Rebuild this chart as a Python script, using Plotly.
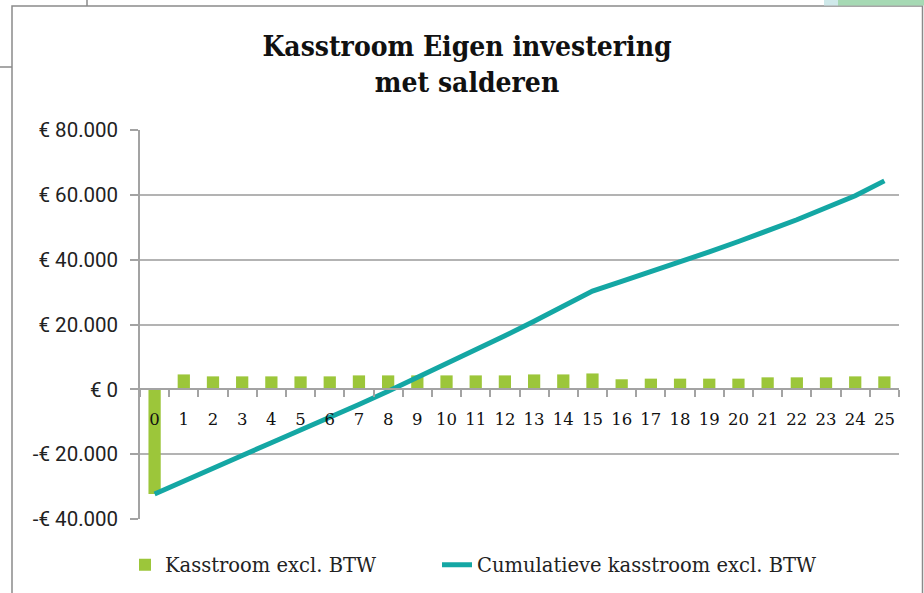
import plotly.graph_objects as go

# ---- data ----
years = [str(i) for i in range(26)]
kasstroom = [-32300, 4600, 4000, 4000, 4000, 4000, 4000, 4300, 4300, 4300, 4300,
             4300, 4300, 4600, 4600, 4900, 3100, 3300, 3300, 3300, 3300, 3700,
             3700, 3700, 4000, 4000]
cumulatief = [-32300, -28200, -24300, -20400, -16500, -12700, -8700, -4700, -600,
              3600, 7900, 12200, 16500, 21000, 25600, 30300, 33300, 36200, 39300,
              42400, 45600, 48900, 52300, 56000, 59700, 64300]
y_ticks = [-40000, -20000, 0, 20000, 40000, 60000, 80000]
y_labels = ["-€ 40.000", "-€ 20.000", "€ 0", "€ 20.000", "€ 40.000", "€ 60.000", "€ 80.000"]
title_text = "Kasstroom Eigen investering<br>met salderen"
bar_name = "Kasstroom excl. BTW"
line_name = "Cumulatieve kasstroom excl. BTW"

W, H = 924, 593
ML, MR, MT, MB = 140, 25, 130, 74
PW, PH = W - ML - MR, H - MT - MB


def px(x):
    return (x - ML) / PW


def py(y):
    return (H - MB - y) / PH


serif = "DejaVu Serif"
grey = "#a3a3a3"
legend_font = dict(family=serif, size=19.5, color="#222222")

fig = go.Figure()
fig.add_trace(go.Bar(
    x=years, y=kasstroom, name=bar_name, width=0.42, legend="legend",
    marker=dict(color="#9cc63a", line=dict(width=0)),
))
fig.add_trace(go.Scatter(
    x=years, y=cumulatief, name=line_name, mode="lines", legend="legend2",
    line=dict(color="#14a7a4", width=5),
))

shapes = [
    # outer chart frame
    dict(type="rect", xref="paper", yref="paper", x0=px(12), x1=px(922.5), y0=py(6), y1=py(610),
         line=dict(color="#8a8a8a", width=1.5), fillcolor="rgba(0,0,0,0)", layer="below"),
    dict(type="line", xref="paper", yref="paper", x0=px(0), x1=px(12), y0=py(67), y1=py(67),
         line=dict(color="#8a8a8a", width=1.5)),
    dict(type="line", xref="paper", yref="paper", x0=px(87), x1=px(87), y0=py(0), y1=py(6),
         line=dict(color="#8a8a8a", width=1.5)),
    dict(type="rect", xref="paper", yref="paper", x0=px(824), x1=px(838), y0=py(0), y1=py(5.5),
         line=dict(width=0), fillcolor="#cfe9ea"),
    dict(type="rect", xref="paper", yref="paper", x0=px(838), x1=px(924), y0=py(0), y1=py(5.5),
         line=dict(width=0), fillcolor="#a6d9b4"),
]

fig.update_layout(
    width=W, height=H,
    margin=dict(l=ML, r=MR, t=MT, b=MB, pad=0, autoexpand=False),
    paper_bgcolor="white", plot_bgcolor="white",
    title=dict(text=title_text, x=467 / W, xanchor="center", xref="container",
               y=1 - 56 / H, yanchor="middle", yref="container",
               font=dict(family="DejaVu Serif Condensed", size=28, color="#111111", weight="bold")),
    showlegend=True,
    legend=dict(orientation="h", x=px(125), xanchor="left", y=py(565), yanchor="middle",
                font=legend_font, bgcolor="rgba(0,0,0,0)"),
    legend2=dict(orientation="h", x=px(437), xanchor="left", y=py(565), yanchor="middle",
                 font=legend_font, bgcolor="rgba(0,0,0,0)"),
    bargap=0.58,
    shapes=shapes,
    xaxis=dict(type="category", anchor="free", position=1 / 3,
               showline=True, linecolor=grey, linewidth=1.5,
               ticks="outside", tickson="boundaries", ticklen=7, tickcolor=grey, tickwidth=1.5,
               showgrid=False, tickangle=0, ticklabelstandoff=15,
               tickfont=dict(family=serif, size=16.5, color="#111111"),
               range=[-0.5, 25.5], automargin=False),
    yaxis=dict(range=[-40000, 80000], tickvals=y_ticks, ticktext=y_labels,
               showline=True, linecolor=grey, linewidth=1.5,
               ticks="outside", ticklen=8, tickcolor=grey, tickwidth=1.5,
               showgrid=True, gridcolor="#b3b3b3", gridwidth=1.5, zeroline=False,
               tickfont=dict(family="Roboto", size=20.5, color="#222222"),
               ticklabelstandoff=8, automargin=False),
)

fig.write_html("out.html", post_script="document.body.style.margin='0';",
               config={"displayModeBar": False})
